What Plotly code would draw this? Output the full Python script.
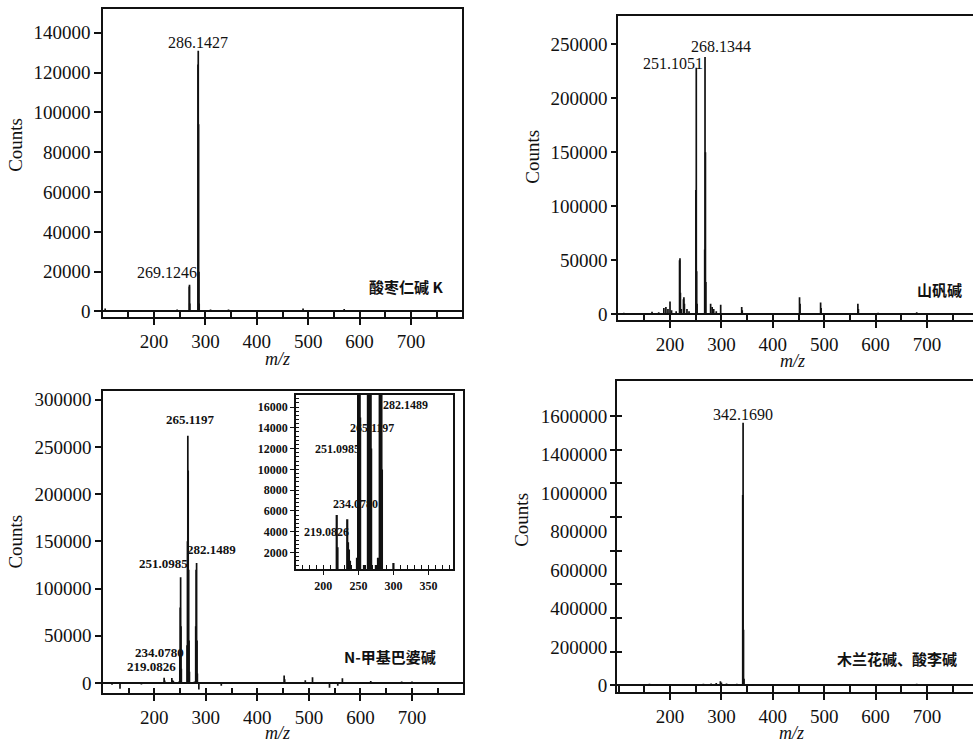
import plotly.graph_objects as go

W, H = 973, 747

# ---------------- data ----------------
# Panel 1: 酸枣仁碱 K
p1_mz = [105, 175, 240, 245, 268.6, 269.1, 269.6, 285.6, 286.1, 286.7, 287.3, 287.9, 310, 345, 490, 570]
p1_counts = [1500, 800, 800, 1000, 12500, 13400, 4000, 124000, 131000, 94000, 20000, 4000, 1000, 1000, 1500, 1200]
p1_peaks = ["286.1427", "269.1246"]

# Panel 2: 山矾碱
p2_mz = [110, 130, 165, 178, 188, 192, 196, 200, 203, 212, 218.6, 219.4, 220.2, 222, 226.2, 227.0, 228, 233, 237,
         250.4, 251.1, 251.8, 252.6, 267.5, 268.1, 268.9, 269.7, 279, 282, 285, 290, 298.6, 339.5, 340.5, 390,
         452, 453, 493, 494, 565.5, 566.5, 605, 680, 720]
p2_counts = [1500, 1000, 2500, 2000, 6000, 7000, 5000, 12000, 4000, 3000, 50000, 52000, 20000, 5000, 14000, 16000, 10000, 5000, 3000,
             115000, 228000, 40000, 10000, 60000, 238000, 150000, 30000, 10000, 7000, 5000, 3000, 9000, 7000, 4000, 1000,
             16000, 10000, 11000, 6000, 10000, 5000, 1500, 2000, 1200]
p2_peaks = ["251.1051", "268.1344"]

# Panel 3: N-甲基巴婆碱 (main + inset share the data)
p3_mz = [118, 133.5, 175, 219.1, 220.2, 234.1, 235.2, 236.5, 238, 248, 249.6, 250.3, 251.1, 251.8, 252.5, 258,
         263.6, 264.4, 265.1, 265.8, 266.7, 267.5, 268.2, 275, 278, 280.4, 281.2, 282.1, 282.9, 283.6, 286.5,
         300, 330, 452, 453, 493, 507, 540, 556, 565, 620, 680, 700]
p3_counts = [-2000, -6000, -1500, 5600, 2500, 5200, 3000, 2300, 1200, 1500, 30000, 80000, 112000, 60000, 15000, 800,
             40000, 150000, 262000, 225000, 120000, 45000, 12000, 800, 1500, 60000, 120000, 127000, 45000, 10000, -7000,
             1000, -3000, 8000, 4000, 3000, 6000, -5000, -3000, 5000, 2000, 1500, 1500]
p3_peaks = ["265.1197", "251.0985", "282.1489", "234.0780", "219.0826"]

# Panel 4: 木兰花碱、酸李碱
p4_mz = [150, 160, 175, 190, 210, 230, 250, 265, 280, 290, 298, 300, 310, 330, 341.5, 342.2, 343.0, 344, 360,
         450, 520, 590, 680]
p4_counts = [8000, 10000, 9000, 8000, 9000, 8000, 9000, 10000, 12000, 15000, 25000, 18000, 12000, 10000,
             1130000, 1560000, 330000, 40000, 5000, 6000, 6000, 5000, 10000]
p4_peaks = ["342.1690"]

# tick values / labels
x_tickvals = [200, 300, 400, 500, 600, 700]
p1_yticks = [0, 20000, 40000, 60000, 80000, 100000, 120000, 140000]
p2_yticks = [0, 50000, 100000, 150000, 200000, 250000]
p3_yticks = [0, 50000, 100000, 150000, 200000, 250000, 300000]
p4_yticks = [0, 200000, 400000, 600000, 800000, 1000000, 1200000, 1400000, 1600000]
p4_ylabels = ["0", "200000", "400000", "600000", "800000", "1000000", "1400000", "1600000"]
inset_xticks = [200, 250, 300, 350]
inset_yticks = [2000, 4000, 6000, 8000, 10000, 12000, 14000, 16000]

names = ["酸枣仁碱 K", "山矾碱", "N-甲基巴婆碱", "木兰花碱、酸李碱"]


def sticks(mz, counts):
    xs, ys = [], []
    for m, c in zip(mz, counts):
        xs += [m, m, None]
        ys += [0, c, None]
    return xs, ys


def px(x):
    return x / W


def py(y):
    return 1 - y / H


BLACK = "#111111"
TICKF = dict(family="Liberation Serif", size=19, color=BLACK)
INSF = dict(family="Liberation Serif", size=12, color=BLACK, weight="bold")

fig = go.Figure()

for i, (mz, ct) in enumerate([(p1_mz, p1_counts), (p2_mz, p2_counts), (p3_mz, p3_counts), (p4_mz, p4_counts)]):
    xs, ys = sticks(mz, ct)
    suffix = "" if i == 0 else str(i + 1)
    fig.add_trace(go.Scatter(x=xs, y=ys, mode="lines", line=dict(color=BLACK, width=1.7),
                             xaxis="x" + suffix, yaxis="y" + suffix, showlegend=False, hoverinfo="skip"))

# inset
xs, ys = sticks(p3_mz, p3_counts)
fig.add_trace(go.Scatter(x=xs, y=ys, mode="lines", line=dict(color=BLACK, width=2.2),
                         xaxis="x5", yaxis="y5", showlegend=False, hoverinfo="skip"))

# empty traces so that the overlay tick axes get drawn
for xa, ya in [("x6", "y"), ("x7", "y2"), ("x8", "y3"), ("x9", "y4"), ("x10", "y5"),
               ("x4", "y6"), ("x4", "y7"), ("x5", "y8")]:
    fig.add_trace(go.Scatter(x=[None], y=[None], mode="lines", xaxis=xa, yaxis=ya,
                             showlegend=False, hoverinfo="skip"))


def main_x(dom, rng, anchor):
    return dict(domain=dom, range=rng, anchor=anchor, tickmode="array", tickvals=x_tickvals,
                ticktext=[str(v) for v in x_tickvals],
                ticks="outside", ticklen=6, tickwidth=1.5, tickcolor=BLACK, showline=True, linecolor=BLACK,
                linewidth=1.5, mirror=True, showgrid=False, zeroline=False, tickfont=TICKF)


def inner_x(over, anchor, rng, ln):
    return dict(overlaying=over, anchor=anchor, range=rng, tickmode="linear", tick0=0, dtick=50,
                ticks="inside", ticklen=ln, tickwidth=1.5, tickcolor=BLACK, showticklabels=False,
                showline=False, showgrid=False, zeroline=False)


def main_y(dom, rng, anchor, tv, mirror, ln=6, labels=True):
    return dict(domain=dom, range=rng, anchor=anchor, tickmode="array", tickvals=tv,
                ticktext=[str(v) for v in tv], showticklabels=labels,
                ticks="outside", ticklen=ln, tickwidth=1.5, tickcolor=BLACK, showline=True, linecolor=BLACK,
                linewidth=1.5, mirror=mirror, showgrid=False, zeroline=True, zerolinecolor=BLACK,
                zerolinewidth=1.5, tickfont=TICKF)


p1_xr, p1_yr = [100.8, 799.2], [-2990, 151960]
p2_xr, p2_yr = [98.8, 789.5], [-5500, 275900]
p3_xr, p3_yr = [100.5, 799.0], [-11030, 309460]
p4_xr, p4_yr = [96.9, 789.5], [-41200, 1807900]
in_xr, in_yr = [161, 385], [377, 17175]

fig.update_layout(
    xaxis=main_x([px(103), px(462)], p1_xr, "y"),
    yaxis=main_y([py(319), py(8)], p1_yr, "x", p1_yticks, True, 7),
    xaxis2=main_x([px(618), 1.0], p2_xr, "y2"),
    yaxis2=main_y([py(322), py(15)], p2_yr, "x2", p2_yticks, False, 5),
    xaxis3=main_x([px(103), px(463)], p3_xr, "y3"),
    yaxis3=main_y([py(698), py(393)], p3_yr, "x3", p3_yticks, True, 6),
    xaxis4=main_x([px(617), 1.0], p4_xr, "y4"),
    yaxis4=main_y([py(697), py(383)], p4_yr, "x4", p4_yticks, False, 5, labels=False),
    xaxis5=dict(domain=[px(296), px(453)], range=in_xr, anchor="y5", tickmode="array", tickvals=inset_xticks,
                ticktext=[str(v) for v in inset_xticks],
                ticks="outside", ticklen=4, tickwidth=1.2, tickcolor=BLACK, showline=True, linecolor=BLACK,
                linewidth=1.5, mirror=True, showgrid=False, zeroline=False, tickfont=INSF),
    yaxis5=dict(domain=[py(573), py(397)], range=in_yr, anchor="x5", tickmode="array", tickvals=inset_yticks,
                ticktext=[str(v) for v in inset_yticks],
                ticks="outside", ticklen=4, tickwidth=1.2, tickcolor=BLACK, showline=True, linecolor=BLACK,
                linewidth=1.5, mirror=True, showgrid=False, zeroline=False, tickfont=INSF),
    xaxis6=inner_x("x", "y", p1_xr, 6),
    xaxis7=inner_x("x2", "y2", p2_xr, 5),
    xaxis8=inner_x("x3", "y3", p3_xr, 5),
    xaxis9=inner_x("x4", "y4", p4_xr, 7),
    xaxis10=dict(overlaying="x5", anchor="y5", range=in_xr, tickmode="linear", tick0=0, dtick=10,
                 ticks="inside", ticklen=4, tickwidth=1.2, tickcolor=BLACK, showticklabels=False,
                 showline=False, showgrid=False, zeroline=False),
    yaxis6=dict(overlaying="y4", anchor="x4", range=p4_yr, tickmode="array", tickvals=p4_yticks,
                ticktext=["" for _ in p4_yticks],
                ticks="inside", ticklen=5, tickwidth=1.5, tickcolor=BLACK, showticklabels=False,
                showline=False, showgrid=False, zeroline=False),
    yaxis7=dict(overlaying="y4", anchor="x4", range=p4_yr, tickmode="array",
                tickvals=[k * p4_yticks[-1] / (len(p4_ylabels) - 1) for k in range(len(p4_ylabels))],
                ticktext=p4_ylabels, ticks="outside", ticklen=5, tickcolor="rgba(0,0,0,0)",
                showticklabels=True, showline=False, showgrid=False, zeroline=False, tickfont=TICKF),
    yaxis8=dict(overlaying="y5", anchor="x5", range=in_yr, tickmode="linear", tick0=0, dtick=400,
                ticks="inside", ticklen=3, tickwidth=1.0, tickcolor=BLACK, showticklabels=False,
                showline=False, showgrid=False, zeroline=False),
)


def ann(text, x, y, size=15, family="Liberation Serif", bold=False, italic=False, angle=0):
    f = dict(family=family, size=size, color=BLACK)
    if bold:
        f["weight"] = "bold"
    if italic:
        f["style"] = "italic"
    fig.add_annotation(text=text, x=px(x), y=py(y), xref="paper", yref="paper", showarrow=False,
                       xanchor="center", yanchor="middle", font=f, textangle=angle)


# peak labels
ann(p1_peaks[0], 198, 42, 16)
ann(p1_peaks[1], 167, 274, 16)
ann(p2_peaks[0], 673, 63, 16)
ann(p2_peaks[1], 721, 46, 16)
ann(p3_peaks[0], 190, 422, 13, bold=True)
ann(p3_peaks[1], 163, 567, 13, bold=True)
ann(p3_peaks[2], 211, 553, 13, bold=True)
ann(p3_peaks[3], 159, 657, 13, bold=True)
ann(p3_peaks[4], 151, 671, 13, bold=True)
ann(p4_peaks[0], 743, 417, 16)
# inset peak labels
ann(p3_peaks[2], 405, 407, 12, bold=True)
ann(p3_peaks[0], 372, 430, 12, bold=True)
ann(p3_peaks[1], 337, 452, 12, bold=True)
ann(p3_peaks[3], 355, 507, 12, bold=True)
ann(p3_peaks[4], 326, 535, 12, bold=True)

# compound names
CJK = "Noto Sans CJK SC"
ann(names[0], 406, 288, 15, family=CJK, bold=True)
ann(names[1], 939, 291, 15, family=CJK, bold=True)
ann(names[2], 390, 661, 15, family=CJK, bold=True)
ann(names[3], 897, 663, 15, family=CJK, bold=True)

# axis titles
for (cx, cy) in [(16, 145), (533, 157), (16, 545), (522, 523)]:
    ann("Counts", cx, cy, 19, angle=-90)
for (cx, cy) in [(277, 361), (792, 363), (277, 738), (791, 738)]:
    ann("m/z", cx, cy, 18, italic=True)

fig.update_layout(width=W, height=H, autosize=False, margin=dict(l=0, r=0, t=0, b=0),
                  paper_bgcolor="white", plot_bgcolor="white", showlegend=False)

fig.write_html("out.html", config={"displayModeBar": False},
               post_script="document.body.style.margin='0';document.body.style.padding='0';")
